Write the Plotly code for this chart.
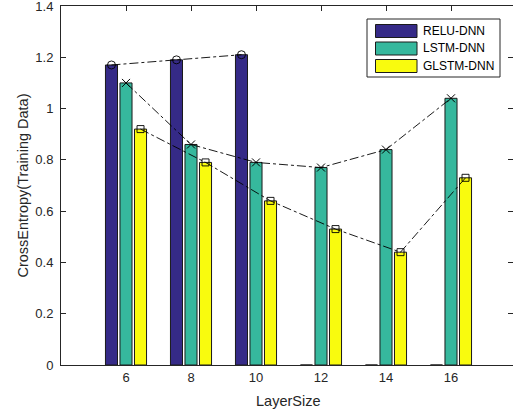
import plotly.graph_objects as go

layer_sizes = [6, 8, 10, 12, 14, 16]
relu_dnn = [1.17, 1.19, 1.21, 0, 0, 0]
lstm_dnn = [1.10, 0.86, 0.79, 0.77, 0.84, 1.04]
glstm_dnn = [0.92, 0.79, 0.64, 0.53, 0.44, 0.73]
series_names = ["RELU-DNN", "LSTM-DNN", "GLSTM-DNN"]
y_ticks = [0, 0.2, 0.4, 0.6, 0.8, 1.0, 1.2, 1.4]

colors = ["#352A87", "#36B89D", "#F9FB0E"]
edge = "#1A1A1A"
font_fam = "Liberation Sans, Arial, sans-serif"
txt = "#262626"

W, H = 513, 414
ML, MR, MT, MB = 61, 0, 6, 49
PW, PH = W - ML - MR, H - MT - MB
px_per_unit = 32.5
x0r = 4
x1r = x0r + PW / px_per_unit

bargap = 0.33
bargroupgap = 0.17
cat_step = 2
slot = cat_step * (1 - bargap) / 3

fig = go.Figure()
for name, vals, col in zip(series_names, [relu_dnn, lstm_dnn, glstm_dnn], colors):
    fig.add_trace(go.Bar(x=layer_sizes, y=vals, name=name, marker=dict(color=col, line=dict(color=edge, width=1)),
                         showlegend=False))

line_style = dict(color="black", width=0.9, dash="dashdot")
n_relu = 3
fig.add_trace(go.Scatter(x=[v - slot for v in layer_sizes[:n_relu]], y=relu_dnn[:n_relu], mode="lines+markers",
                         line=line_style, marker=dict(symbol="circle-open", size=8, color="black", line=dict(width=0.9)),
                         showlegend=False))
fig.add_trace(go.Scatter(x=layer_sizes, y=lstm_dnn, mode="lines+markers",
                         line=line_style, marker=dict(symbol="x-thin-open", size=8, color="black", line=dict(width=1)),
                         showlegend=False))
fig.add_trace(go.Scatter(x=[v + slot for v in layer_sizes], y=glstm_dnn, mode="lines+markers",
                         line=line_style, marker=dict(symbol="square-open", size=7, color="black", line=dict(width=0.9)),
                         showlegend=False))

def px_x(p):
    return (p - ML) / PW

def px_y(p):
    return (H - MB - p) / PH

shapes = []
annotations = []
# legend box
shapes.append(dict(type="rect", xref="paper", yref="paper", x0=px_x(367), x1=px_x(500), y0=px_y(77), y1=px_y(19),
                   line=dict(color=txt, width=1), fillcolor="white", layer="above"))
row_centers = [31, 48.5, 66]
for name, col, yc in zip(series_names, colors, row_centers):
    shapes.append(dict(type="rect", xref="paper", yref="paper", x0=px_x(375.5), x1=px_x(417),
                       y0=px_y(yc + 6.5), y1=px_y(yc - 6.5), line=dict(color=edge, width=1), fillcolor=col, layer="above"))
    annotations.append(dict(text=name, xref="paper", yref="paper", x=px_x(421), y=px_y(yc), xanchor="left",
                            yanchor="middle", showarrow=False, font=dict(family=font_fam, size=12, color="black")))

annotations.append(dict(text="CrossEntropy(Training Data)", xref="paper", yref="paper", x=px_x(22), y=px_y(185.5),
                        textangle=-90, showarrow=False, xanchor="center", yanchor="middle",
                        font=dict(family=font_fam, size=14.5, color=txt)))
annotations.append(dict(text="LayerSize", xref="paper", yref="paper", x=px_x(288), y=px_y(401),
                        showarrow=False, xanchor="center", yanchor="middle",
                        font=dict(family=font_fam, size=14.5, color=txt)))

fig.update_layout(
    width=W, height=H, margin=dict(l=ML, r=MR, t=MT, b=MB, pad=0),
    plot_bgcolor="white", paper_bgcolor="white",
    barmode="group", bargap=bargap, bargroupgap=bargroupgap,
    shapes=shapes, annotations=annotations, showlegend=False,
    font=dict(family=font_fam, size=13, color=txt),
)
fig.update_xaxes(range=[x0r, x1r], tickvals=layer_sizes, ticks="inside", ticklen=5, tickcolor=txt,
                 showline=True, linecolor=txt, linewidth=1, mirror="ticks", showgrid=False, zeroline=False,
                 layer="below traces", tickfont=dict(size=13, color=txt), ticklabeloverflow="allow")
fig.update_yaxes(range=[0, 1.4], tickvals=y_ticks, ticks="inside", ticklen=5, tickcolor=txt,
                 showline=True, linecolor=txt, linewidth=1, mirror="ticks", showgrid=False, zeroline=False,
                 layer="below traces", tickfont=dict(size=13, color=txt), ticklabeloverflow="allow",
                 ticklabelstandoff=4)

fig.write_html("out.html", config={"displayModeBar": False},
               post_script="document.body.style.margin='0';document.body.style.overflow='hidden';")
